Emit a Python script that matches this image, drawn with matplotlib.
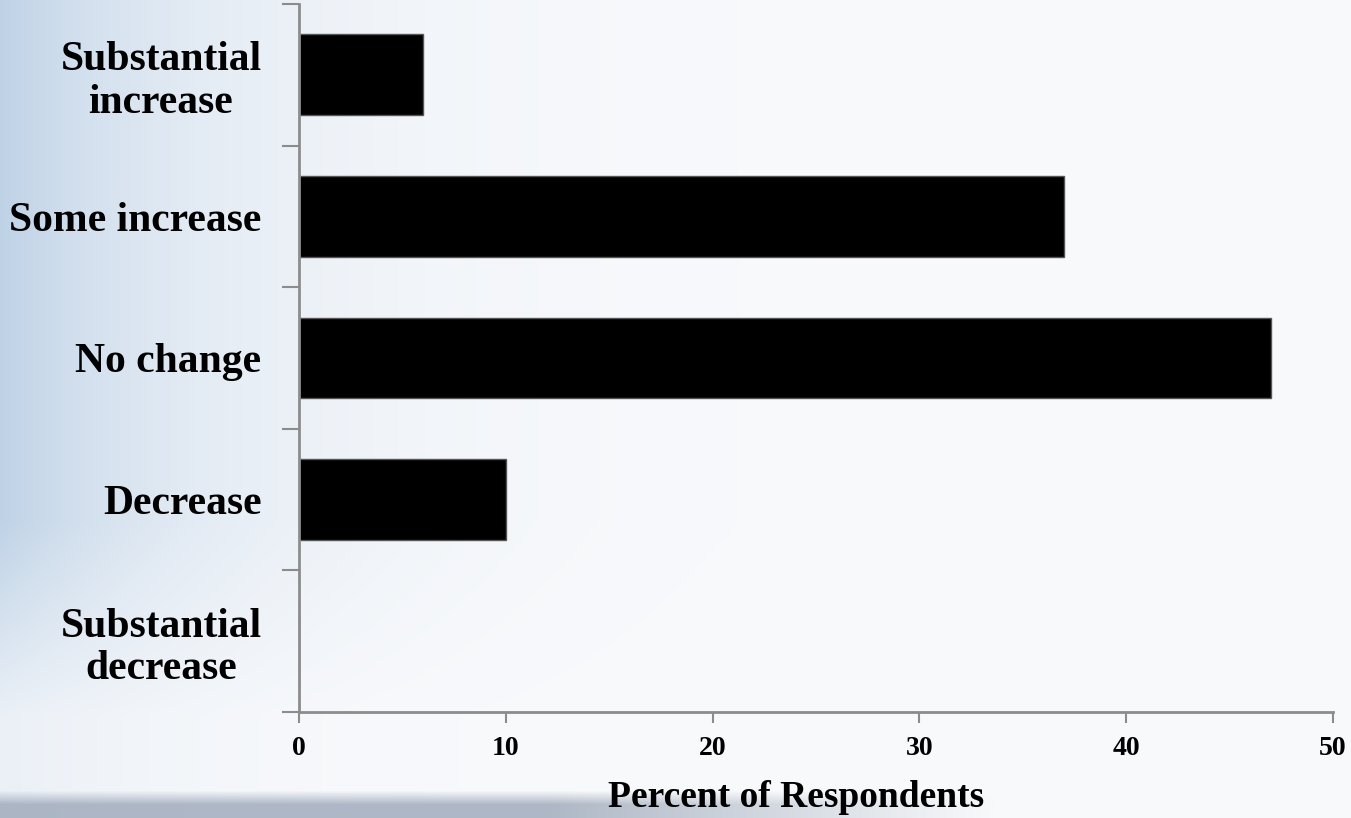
import numpy as np
import matplotlib
matplotlib.use("Agg")
import matplotlib.pyplot as plt

categories = ["Substantial\nincrease", "Some increase", "No change",
              "Decrease", "Substantial\ndecrease"]
percent = [6, 37, 47, 10, 0]
x_ticks = [0, 10, 20, 30, 40, 50]

W, H = 1351, 818
fig = plt.figure(figsize=(W / 100, H / 100), dpi=100)

# soft sky backdrop: pale blue on the left fading to white, hazy hills along the bottom
bg = fig.add_axes([0, 0, 1, 1], zorder=-10)
bg.set_axis_off()
yy, xx = np.mgrid[0:H, 0:W].astype(float)
white = np.array([249, 250, 252]) / 255.0
sky = np.array([176, 200, 225]) / 255.0
hills = np.array([150, 162, 180]) / 255.0
vert = np.clip(1.0 - (yy - 520) / 260.0, 0.25, 1.0)
w_sky = np.exp(-xx / 200.0) * vert * 0.8
w_hill = (np.clip((yy - 790) / 14.0, 0, 1)
          * np.clip(1.0 - (xx - 550) / 450.0, 0, 1) * 0.75)
img = white[None, None, :] * np.ones((H, W, 3))
img = img * (1 - w_sky[..., None]) + sky[None, None, :] * w_sky[..., None]
img = img * (1 - w_hill[..., None]) + hills[None, None, :] * w_hill[..., None]
bg.imshow(np.clip(img, 0, 1), extent=[0, 1, 0, 1], aspect="auto")

ax = fig.add_axes([299 / W, 1 - 712 / H, (1333 - 299) / W, (712 - 4) / H])
ax.patch.set_alpha(0)

serif = ["Liberation Serif", "DejaVu Serif"]
ypos = np.arange(len(categories))
ax.barh(ypos, percent, height=0.57, color="black", edgecolor="#555555",
        linewidth=1.0)
ax.set_ylim(len(categories) - 0.5, -0.5)
ax.set_xlim(0, 50)

ax.set_yticks(np.arange(len(categories) + 1) - 0.5)
ax.set_yticklabels([])
ax.set_yticks(ypos, minor=True)
ax.set_yticklabels(categories, minor=True, fontsize=30, fontweight="bold",
                   family=serif, multialignment="center", linespacing=1.15)
ax.tick_params(axis="y", which="minor", length=0, pad=27)
ax.tick_params(axis="y", which="major", length=12, width=1.5, color="#8c8c8c")

ax.set_xticks(x_ticks)
ax.set_xticklabels([str(v) for v in x_ticks], fontsize=20, fontweight="bold",
                   family=serif)
ax.tick_params(axis="x", length=8, width=1.5, color="#8c8c8c", pad=9)
ax.set_xlabel("Percent of Respondents", fontsize=27, fontweight="bold",
              family=serif, va="baseline")
ax.xaxis.set_label_coords(0.4807, -0.134)

for side in ("top", "right"):
    ax.spines[side].set_visible(False)
for side in ("left", "bottom"):
    ax.spines[side].set_color("#8c8c8c")
    ax.spines[side].set_linewidth(2)

fig.savefig("out.png", dpi=100)
